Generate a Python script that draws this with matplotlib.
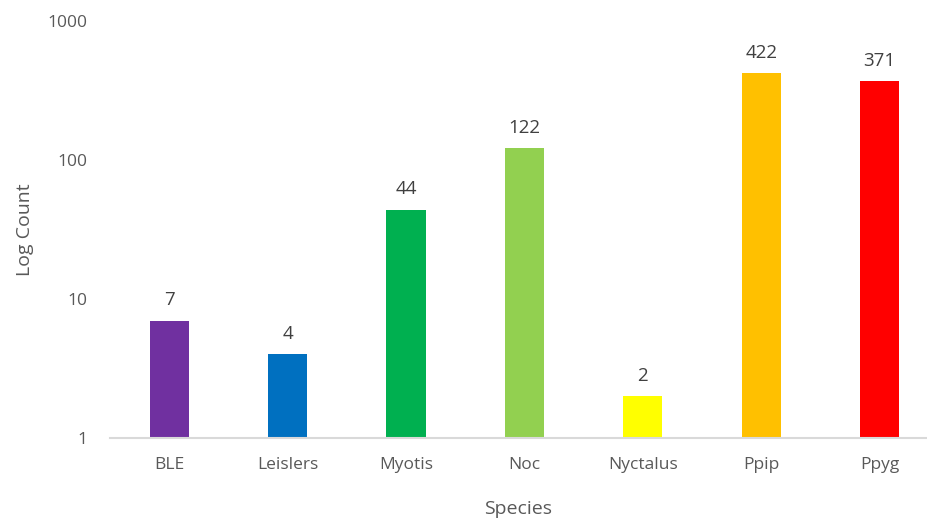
import matplotlib.pyplot as plt

species = ['BLE', 'Leislers', 'Myotis', 'Noc', 'Nyctalus', 'Ppip', 'Ppyg']
counts = [7, 4, 44, 122, 2, 422, 371]
colours = ['#7030A0', '#0070C0', '#00B050', '#92D050', '#FFFF00', '#FFC000', '#FF0000']
yticks = [1, 10, 100, 1000]

plt.rcParams['font.family'] = ['Open Sans', 'DejaVu Sans']

fig = plt.figure(figsize=(9.27, 5.22), dpi=100)
ax = fig.add_axes([110 / 927, (522 - 438) / 522, 817 / 927, (438 - 21) / 522])

x = range(len(species))
ax.bar(x, counts, width=0.33, color=colours, zorder=2)

for i, c in enumerate(counts):
    ax.annotate(str(c), (i, c), xytext=(0, 8), textcoords='offset points',
                ha='center', va='bottom', fontsize=13.5, color='#404040')

ax.set_yscale('log')
ax.set_ylim(1, 1000)
ax.set_yticks(yticks)
ax.set_yticklabels([str(t) for t in yticks])
ax.minorticks_off()
ax.set_xlim(-0.5, 6.4)
ax.set_xticks(list(x))
ax.set_xticklabels(species)

for s in ['top', 'right', 'left']:
    ax.spines[s].set_visible(False)
ax.spines['bottom'].set_color('#D9D9D9')
ax.spines['bottom'].set_linewidth(1.5)
ax.tick_params(axis='both', length=0, labelsize=12.5, colors='#595959')
ax.tick_params(axis='x', pad=14)
ax.tick_params(axis='y', pad=16)

ax.set_xlabel('Species', fontsize=14, color='#595959', labelpad=19)
ax.set_ylabel('Log Count', fontsize=14, color='#595959', labelpad=10)

fig.savefig('out.png', dpi=100)
